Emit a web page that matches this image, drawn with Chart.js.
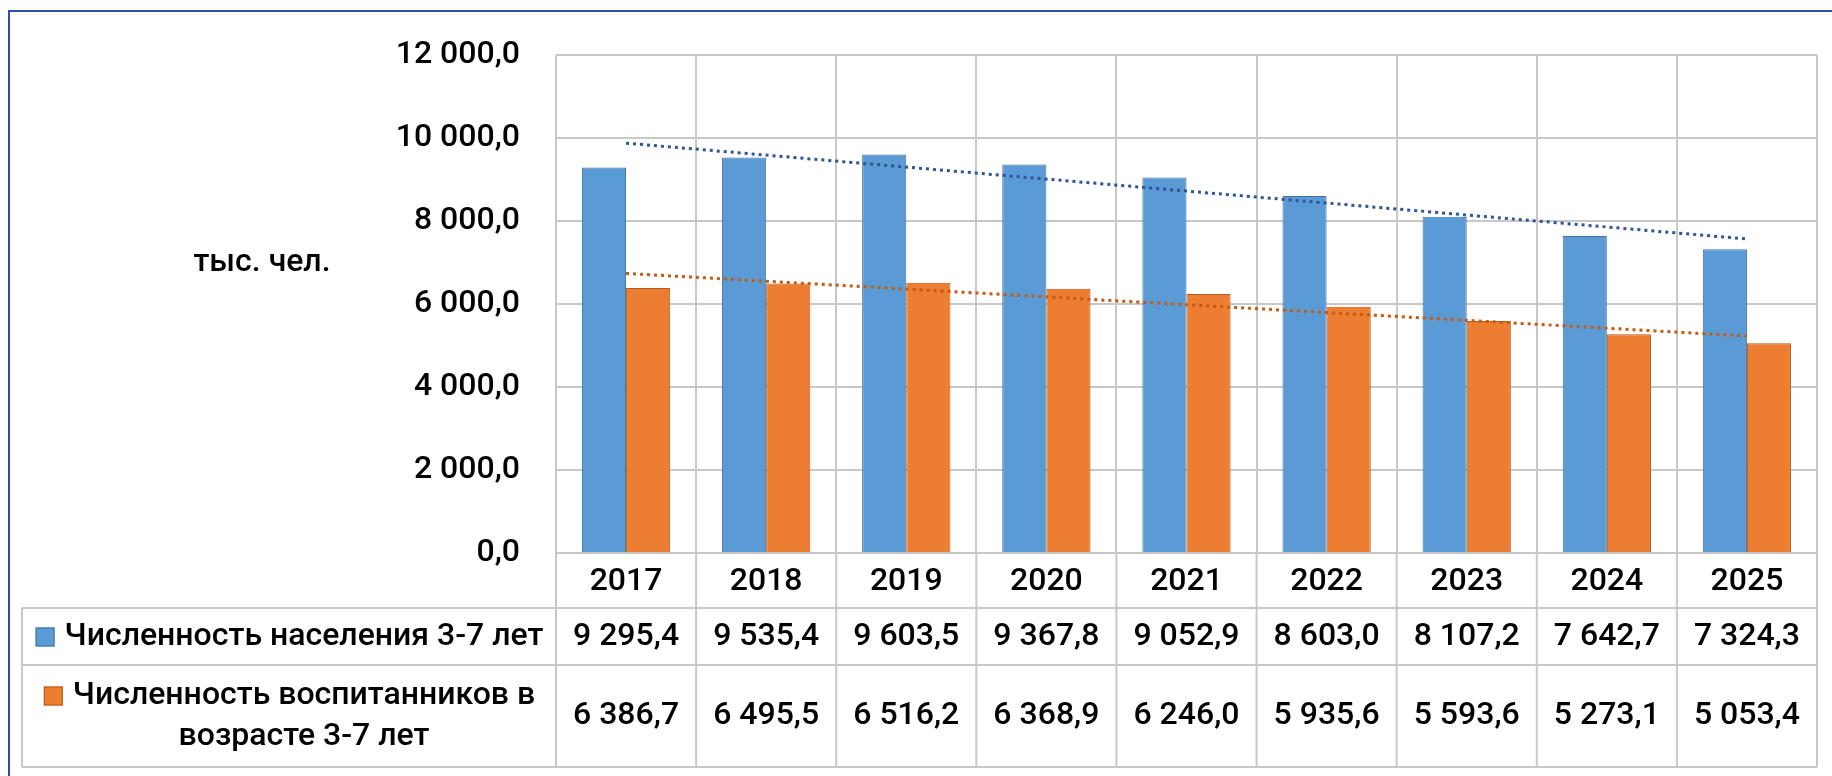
<!DOCTYPE html>
<html>
<head>
<meta charset="utf-8">
<script src="https://cdn.jsdelivr.net/npm/chart.js@4/dist/chart.umd.min.js"></script>
<style>
  html, body { margin: 0; padding: 0; background: #fff; }
</style>
</head>
<body>
<canvas id="chart" width="1832" height="776"></canvas>
<script>
// data
const years = ['2017', '2018', '2019', '2020', '2021', '2022', '2023', '2024', '2025'];
const population = [9295.4, 9535.4, 9603.5, 9367.8, 9052.9, 8603.0, 8107.2, 7642.7, 7324.3];
const pupils = [6386.7, 6495.5, 6516.2, 6368.9, 6246.0, 5935.6, 5593.6, 5273.1, 5053.4];
const seriesNames = [
  ['Численность населения 3-7 лет'],
  ['Численность воспитанников в', 'возрасте 3-7 лет']
];
const unitLabel = 'тыс. чел.';
const yTicks = [0, 2000, 4000, 6000, 8000, 10000, 12000];
// dotted trend lines, values read at 2017 and 2025
const populationTrend = [9880, 7570];
const pupilsTrend = [6740, 5230];

const BLUE = '#5b9bd5', ORANGE = '#ed7d31';
const GRID = '#c8c8c8';
const FONT = 'Roboto';
const WEIGHT = '500';

function fmt(v) {
  const [i, d] = v.toFixed(1).split('.');
  return i.replace(/\B(?=(\d{3})+(?!\d))/g, ' ') + ',' + d;
}

function trend(ends) {
  return years.map((y, i) => i === 0 ? ends[0] : (i === years.length - 1 ? ends[1] : null));
}

const tablePlugin = {
  id: 'dataTable',
  afterDraw(chart) {
    const ctx = chart.ctx;
    const area = chart.chartArea;
    const xs = chart.scales.x;
    const step = area.width / years.length;
    const row1 = area.bottom + 55, row2 = area.bottom + 112, end = area.bottom + 214;
    const left = 22;

    ctx.save();
    ctx.strokeStyle = GRID;
    ctx.lineWidth = 2;
    ctx.beginPath();
    [row1, row2, end].forEach(y => { ctx.moveTo(left, y); ctx.lineTo(area.right, y); });
    ctx.moveTo(left, row1); ctx.lineTo(left, end);
    for (let i = 0; i <= years.length; i++) {
      const px = area.left + i * step;
      ctx.moveTo(px, area.bottom); ctx.lineTo(px, end);
    }
    ctx.stroke();

    ctx.fillStyle = '#000';
    ctx.font = WEIGHT + ' 32px ' + FONT;
    ctx.textAlign = 'center';
    ctx.textBaseline = 'middle';
    const c1 = (row1 + row2) / 2, c2 = (row2 + end) / 2;
    years.forEach((y, i) => {
      const px = xs.getPixelForValue(i);
      ctx.fillText(fmt(population[i]), px, c1);
      ctx.fillText(fmt(pupils[i]), px, c2);
    });

    // row headers with colour keys
    const textCenter = 304;
    const rows = [[c1, BLUE, '#41719c'], [c2, ORANGE, '#ae5a21']];
    seriesNames.forEach((lines, r) => {
      const [cy, fill, edge] = rows[r];
      const gap = 41;
      const top = cy - (lines.length - 1) * gap / 2;
      lines.forEach((t, k) => {
        ctx.fillStyle = '#000';
        ctx.fillText(t, textCenter, top + k * gap);
      });
      const w = ctx.measureText(lines[0]).width;
      const kx = textCenter - w / 2 - 29;
      ctx.fillStyle = fill;
      ctx.fillRect(kx, top - 9, 19, 19);
      ctx.strokeStyle = edge;
      ctx.lineWidth = 1;
      ctx.strokeRect(kx + 0.5, top - 8.5, 18, 18);
    });

    // unit label
    ctx.fillStyle = '#000';
    ctx.fillText(unitLabel, 262, 263);

    // outer frame
    ctx.strokeStyle = '#2e4da7';
    ctx.lineWidth = 2;
    ctx.beginPath();
    ctx.moveTo(9, 776); ctx.lineTo(9, 11); ctx.lineTo(1832, 11);
    ctx.stroke();
    ctx.restore();
  }
};

new Chart(document.getElementById('chart').getContext('2d'), {
  type: 'bar',
  data: {
    labels: years,
    datasets: [
      {
        label: seriesNames[0].join(' '),
        data: population,
        backgroundColor: BLUE,
        borderColor: '#41719c',
        borderWidth: 1,
        categoryPercentage: 0.63,
        barPercentage: 1,
        order: 2
      },
      {
        label: seriesNames[1].join(' '),
        data: pupils,
        backgroundColor: ORANGE,
        borderColor: '#ae5a21',
        borderWidth: 1,
        categoryPercentage: 0.63,
        barPercentage: 1,
        order: 2
      },
      {
        type: 'line',
        data: trend(populationTrend),
        borderColor: '#2f5597',
        borderWidth: 3,
        borderDash: [3, 4],
        pointRadius: 0,
        spanGaps: true,
        order: 1
      },
      {
        type: 'line',
        data: trend(pupilsTrend),
        borderColor: '#c55a11',
        borderWidth: 3,
        borderDash: [3, 4],
        pointRadius: 0,
        spanGaps: true,
        order: 1
      }
    ]
  },
  options: {
    responsive: false,
    animation: false,
    layout: { padding: { left: 0, top: 53, right: 15, bottom: 9 } },
    plugins: {
      legend: { display: false },
      tooltip: { enabled: false }
    },
    scales: {
      x: {
        grid: { offset: true, color: GRID, lineWidth: 2, drawTicks: false },
        border: { color: GRID, width: 2 },
        ticks: { color: '#000', font: { family: FONT, size: 32, weight: WEIGHT }, padding: 10, maxRotation: 0 },
        afterFit: s => { s.height = 214; }
      },
      y: {
        min: 0,
        max: 12000,
        afterBuildTicks: s => { s.ticks = yTicks.map(v => ({ value: v })); },
        grid: { color: GRID, lineWidth: 2, drawTicks: false },
        border: { display: false },
        ticks: {
          color: '#000',
          font: { family: FONT, size: 32, weight: WEIGHT },
          padding: 36,
          callback: v => fmt(v)
        },
        afterFit: s => { s.width = 556; }
      }
    }
  },
  plugins: [tablePlugin]
});
</script>
</body>
</html>
